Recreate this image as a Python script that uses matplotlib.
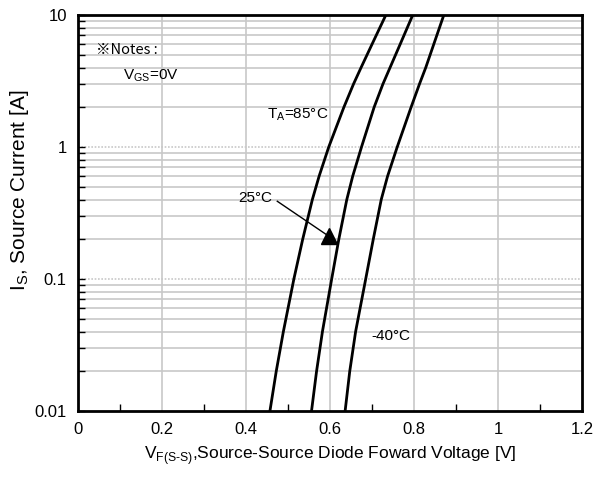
import matplotlib
matplotlib.use("Agg")
import matplotlib.pyplot as plt
from matplotlib.ticker import FixedLocator, NullFormatter

plt.rcParams['font.family'] = ['Liberation Sans', 'DejaVu Sans']
plt.rcParams['mathtext.fontset'] = 'custom'
plt.rcParams['mathtext.rm'] = 'Liberation Sans'

current = [0.01, 0.02, 0.04, 0.1, 0.2, 0.4, 0.6, 1, 2, 3, 4, 6, 10]
v_85 = [0.457, 0.472, 0.489, 0.514, 0.535, 0.558, 0.574, 0.597, 0.633, 0.656, 0.674, 0.700, 0.733]
v_25 = [0.556, 0.568, 0.582, 0.604, 0.621, 0.640, 0.654, 0.675, 0.705, 0.726, 0.743, 0.767, 0.797]
v_m40 = [0.636, 0.647, 0.661, 0.685, 0.703, 0.722, 0.737, 0.760, 0.793, 0.813, 0.828, 0.847, 0.871]

x_ticks = [0, 0.2, 0.4, 0.6, 0.8, 1, 1.2]
x_tick_labels = ['0', '0.2', '0.4', '0.6', '0.8', '1', '1.2']
y_ticks = [0.01, 0.1, 1, 10]
y_tick_labels = ['0.01', '0.1', '1', '10']

fig = plt.figure(figsize=(5.93, 4.82), dpi=100)
ax = fig.add_axes([0.1315, 0.1473, 0.85, 0.8216])
ax.set_yscale('log')
ax.set_xlim(0, 1.2)
ax.set_ylim(0.01, 10)

# grid
for xv in x_ticks[1:-1]:
    ax.axvline(xv, color='#c8c8c8', lw=1.2, zorder=1)
minor_y = [m * 10.0 ** e for e in (-2, -1, 0) for m in range(2, 10)]
for yv in minor_y:
    ax.axhline(yv, color='#c8c8c8', lw=1.2, zorder=1)
for yv in [0.1, 1]:
    ax.axhline(yv, color='#c8c8c8', lw=1.2, ls=(0, (1, 1)), zorder=1)

for v in (v_85, v_25, v_m40):
    ax.plot(v, current, color='black', lw=2, zorder=3, solid_joinstyle='round')

ax.set_xticks(x_ticks)
ax.set_xticklabels(x_tick_labels)
ax.xaxis.set_minor_locator(FixedLocator([0.1, 0.3, 0.5, 0.7, 0.9, 1.1]))
ax.set_yticks(y_ticks)
ax.set_yticklabels(y_tick_labels)
ax.yaxis.set_minor_locator(FixedLocator(minor_y))
ax.yaxis.set_minor_formatter(NullFormatter())
ax.tick_params(axis='both', which='major', direction='in', length=5, width=1,
               labelsize=12, pad=8, colors='black')
ax.tick_params(axis='both', which='minor', direction='in', length=5, width=1)
ax.tick_params(axis='x', which='major', length=0)
for s in ax.spines.values():
    s.set_linewidth(2)

ax.set_xlabel('V$_{\\mathregular{F(S\\text{-}S)}}$,Source-Source Diode Foward Voltage [V]',
              fontsize=12.5, labelpad=5)
ax.set_ylabel('I$_{\\mathregular{S}}$, Source Current [A]', fontsize=15)
ax.yaxis.set_label_coords(-0.093, 0.557)

ax.text(0.043, 5.4, '※Notes :', fontsize=10.5, ha='left', va='center', zorder=4,
        family=['Noto Sans CJK JP', 'Liberation Sans'])
ax.text(0.107, 3.45, 'V$_{\\mathregular{GS}}$=0V', fontsize=11, ha='left', va='center', zorder=4)
ax.text(0.523, 1.77, 'T$_{\\mathregular{A}}$=85°C', fontsize=11, ha='center', va='center', zorder=4)
ax.text(0.423, 0.414, '25°C', fontsize=11, ha='center', va='center', zorder=4)
ax.text(0.744, 0.0371, '-40°C', fontsize=11, ha='center', va='center', zorder=4)

ax.plot([0.4745, 0.598], [0.388, 0.21], color='black', lw=1, zorder=4)
ax.plot([0.598], [0.21], marker='^', color='black', markersize=11, zorder=4)

fig.savefig('out.png', dpi=100)
